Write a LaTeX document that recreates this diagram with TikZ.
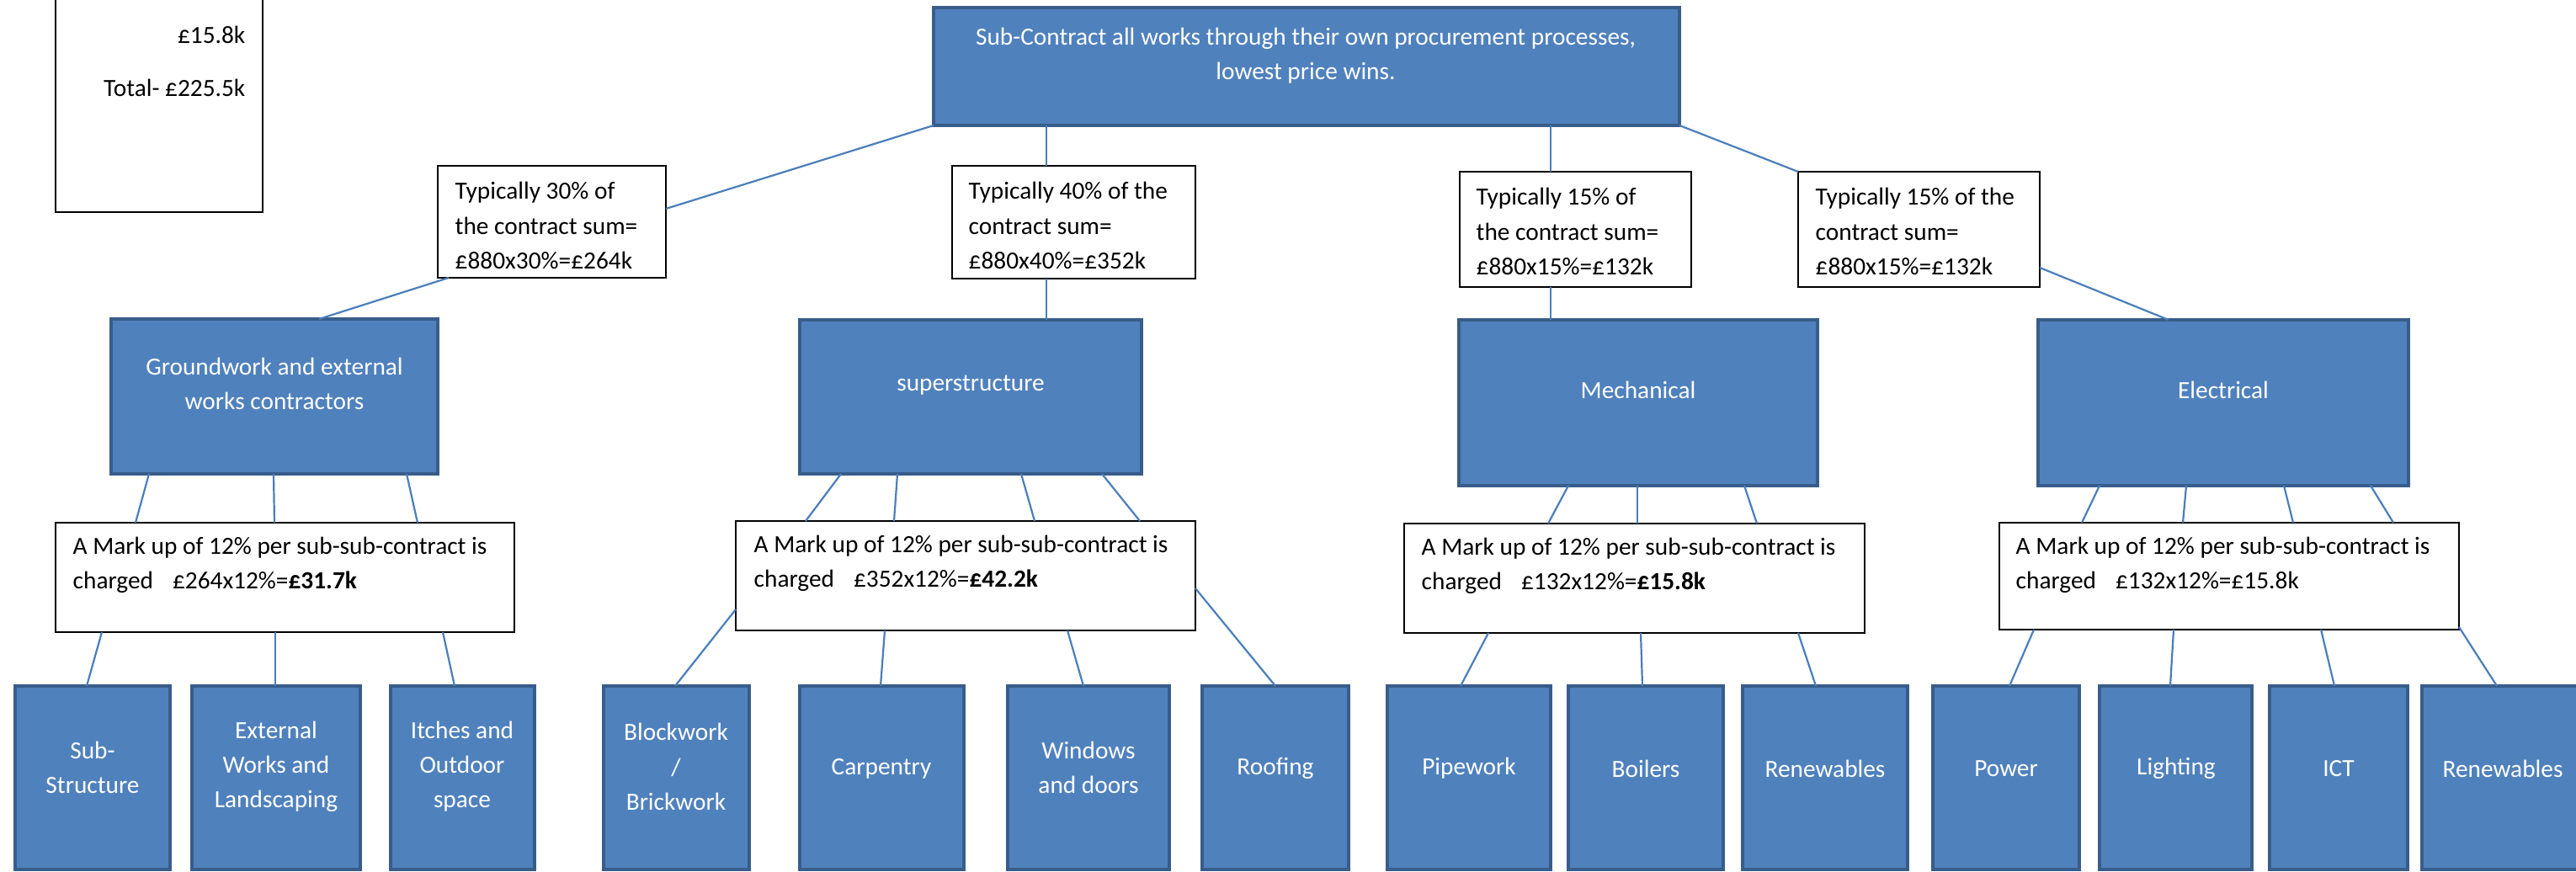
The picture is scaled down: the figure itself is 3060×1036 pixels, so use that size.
\documentclass[tikz,border=0pt]{standalone}
\usepackage{fontspec}
\setmainfont{Carlito}
\usetikzlibrary{fit}
\definecolor{bfill}{HTML}{4F81BD}
\definecolor{bline}{HTML}{385D8A}
\definecolor{conn}{HTML}{4A7EBB}
\newcommand\dfont{\fontsize{8.35pt}{11.7pt}\selectfont}
\newcommand\boxnode[6]{\node[#2, fit={(#3,#4) (#5,#6)}] (#1) {};}
\newcommand\lk[4]{\draw[link] (#2,0 |- #1.south) -- (#4,0 |- #3.north);}
\begin{document}
\begin{tikzpicture}[x=0.1mm,y=-0.1mm,
  bluebox/.style={draw=bline, fill=bfill, line width=0.45mm, inner sep=0pt, outer sep=0pt},
  whitebox/.style={draw=black, fill=white, line width=0.2mm, inner sep=0pt, outer sep=0pt},
  wtxt/.style={text=white, align=center, inner sep=0pt, font=\dfont},
  btxt/.style={text=black, align=left, inner sep=0pt, anchor=west, font=\dfont},
  link/.style={draw=conn, line width=0.22mm}]
\clip (0,0) rectangle (3060,1036);

% top-left note
\boxnode{tl}{whitebox}{66}{-20}{312}{252}
\node[btxt, anchor=east, align=right] (tlt) at (292,73) {£15.8k\\[6pt]Total- £225.5k};

% top
\boxnode{top}{bluebox}{1109}{9}{1995}{149}
\node[wtxt] (topt) at (1551,66) {Sub-Contract all works through their own procurement processes,\\lowest price wins.};

% level 2
\boxnode{t30}{whitebox}{520}{197}{791}{330}
\node[btxt] (t30t) at (540,268) {Typically 30\% of\\the contract sum=\\£880x30\%=£264k};
\boxnode{t40}{whitebox}{1131}{197}{1420}{331}
\node[btxt] (t40t) at (1150,268) {Typically 40\% of the\\contract sum=\\£880x40\%=£352k};
\boxnode{t15a}{whitebox}{1734}{204}{2009}{341}
\node[btxt] (t15at) at (1753,275) {Typically 15\% of\\the contract sum=\\£880x15\%=£132k};
\boxnode{t15b}{whitebox}{2136}{204}{2423}{341}
\node[btxt] (t15bt) at (2156,275) {Typically 15\% of the\\contract sum=\\£880x15\%=£132k};

% level 3
\boxnode{gw}{bluebox}{132}{379}{520}{563}
\node[wtxt] (gwt) at (326,456) {Groundwork and external\\works contractors};
\boxnode{ss}{bluebox}{950}{380}{1356}{563}
\node[wtxt] (sst) at (1153,458) {superstructure};
\boxnode{mech}{bluebox}{1733}{380}{2159}{577}
\node[wtxt] (mecht) at (1946,463) {Mechanical};
\boxnode{elec}{bluebox}{2421}{380}{2861}{577}
\node[wtxt] (elect) at (2641,463) {Electrical};

% level 4
\boxnode{m1}{whitebox}{66}{621}{611}{751}
\node[btxt] (m1t) at (86,671) {A Mark up of 12\% per sub-sub-contract is\\charged\hspace{2.3mm}£264x12\%=\textbf{£31.7k}};
\boxnode{m2}{whitebox}{874}{619}{1420}{749}
\node[btxt] (m2t) at (895,669) {A Mark up of 12\% per sub-sub-contract is\\charged\hspace{2.3mm}£352x12\%=\textbf{£42.2k}};
\boxnode{m3}{whitebox}{1668}{622}{2215}{752}
\node[btxt] (m3t) at (1688,672) {A Mark up of 12\% per sub-sub-contract is\\charged\hspace{2.3mm}£132x12\%=\textbf{£15.8k}};
\boxnode{m4}{whitebox}{2375}{621}{2921}{748}
\node[btxt] (m4t) at (2394,671) {A Mark up of 12\% per sub-sub-contract is\\charged\hspace{2.3mm}£132x12\%=£15.8k};

% leaves
\boxnode{sub}{bluebox}{18}{815}{202}{1033}
\node[wtxt] (subt) at (110,912) {Sub-\\Structure};
\boxnode{ext}{bluebox}{228}{815}{428}{1033}
\node[wtxt] (extt) at (328,911) {External\\Works and\\Landscaping};
\boxnode{itch}{bluebox}{464}{815}{635}{1033}
\node[wtxt] (itcht) at (549,911) {Itches and\\Outdoor\\space};
\boxnode{blk}{bluebox}{717}{815}{890}{1033}
\node[wtxt] (blkt) at (803,911) {Blockwork\\/\\Brickwork};
\boxnode{carp}{bluebox}{950}{815}{1145}{1033}
\node[wtxt] (carpt) at (1047,913) {Carpentry};
\boxnode{win}{bluebox}{1197}{815}{1389}{1033}
\node[wtxt] (wint) at (1293,912) {Windows\\and doors};
\boxnode{roof}{bluebox}{1428}{815}{1602}{1033}
\node[wtxt] (rooft) at (1515,913) {Roofing};
\boxnode{pipe}{bluebox}{1648}{815}{1842}{1033}
\node[wtxt] (pipet) at (1745,913) {Pipework};
\boxnode{boil}{bluebox}{1863}{815}{2047}{1033}
\node[wtxt] (boilt) at (1955,913) {Boilers};
\boxnode{renA}{bluebox}{2070}{815}{2266}{1033}
\node[wtxt] (renAt) at (2168,913) {Renewables};
\boxnode{pow}{bluebox}{2296}{815}{2470}{1033}
\node[wtxt] (powt) at (2383,913) {Power};
\boxnode{lit}{bluebox}{2494}{815}{2675}{1033}
\node[wtxt] (litt) at (2585,913) {Lighting};
\boxnode{ict}{bluebox}{2696}{815}{2860}{1033}
\node[wtxt] (ictt) at (2778,913) {ICT};
\boxnode{renB}{bluebox}{2877}{815}{3070}{1033}
\node[wtxt] (renBt) at (2973,913) {Renewables};

% connectors level 1-2
\draw[link] (top.south west) -- (t30.east |- 0,248);
\lk{top}{1243}{t40}{1243}
\lk{top}{1842}{t15a}{1842}
\draw[link] (top.south east) -- (t15b.north west);
% level 2-3
\lk{t30}{533}{gw}{379}
\lk{t40}{1243}{ss}{1243}
\lk{t15a}{1842}{mech}{1842}
\draw[link] (t15b.east |- 0,318) -- (2576,0 |- elec.north);
% level 3-4
\lk{gw}{177}{m1}{161}
\lk{gw}{325}{m1}{326}
\lk{gw}{483}{m1}{496}
\lk{ss}{999}{m2}{957}
\lk{ss}{1066}{m2}{1062}
\lk{ss}{1213}{m2}{1229}
\lk{ss}{1309}{m2}{1354}
\lk{mech}{1863}{m3}{1839}
\lk{mech}{1945}{m3}{1945}
\lk{mech}{2072}{m3}{2087}
\lk{elec}{2494}{m4}{2473}
\lk{elec}{2597}{m4}{2593}
\lk{elec}{2713}{m4}{2724}
\lk{elec}{2816}{m4}{2843}
% level 4-5
\lk{m1}{121}{sub}{103}
\lk{m1}{327}{ext}{327}
\lk{m1}{526}{itch}{540}
\draw[link] (m2.west |- 0,724) -- (802,0 |- blk.north);
\lk{m2}{1051}{carp}{1046}
\lk{m2}{1268}{win}{1287}
\draw[link] (m2.east |- 0,699) -- (1515,0 |- roof.north);
\lk{m3}{1768}{pipe}{1735}
\lk{m3}{1949}{boil}{1951}
\lk{m3}{2136}{renA}{2157}
\lk{m4}{2416}{pow}{2387}
\lk{m4}{2582}{lit}{2578}
\lk{m4}{2757}{ict}{2773}
\draw[link] (m4.east |- 0,745) -- (2966,0 |- renB.north);
\end{tikzpicture}
\end{document}
